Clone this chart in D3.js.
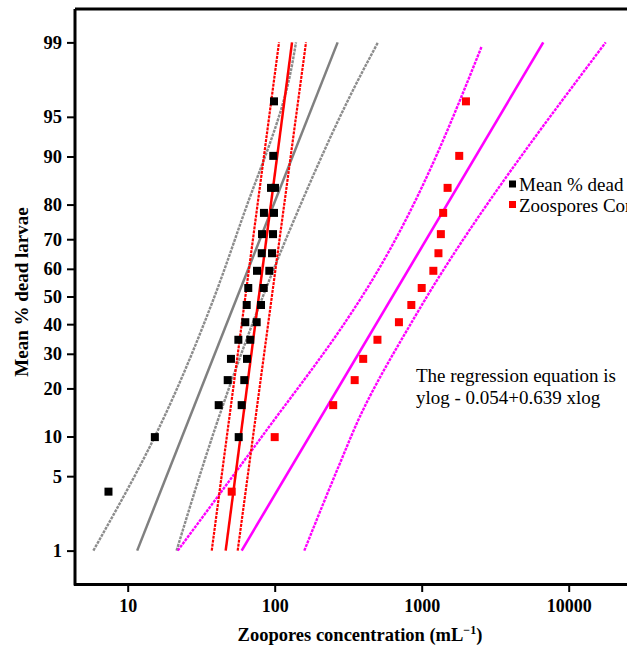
<!DOCTYPE html>
<html>
<head>
<meta charset="utf-8">
<script src="https://cdn.jsdelivr.net/npm/d3@7"></script>
<style>
  html, body { margin: 0; padding: 0; background: #fff; }
  svg { display: block; }
  text { font-family: "Liberation Serif", "Times New Roman", serif; }
</style>
</head>
<body>
<svg id="chart" width="627" height="647"></svg>
<script>
// ---------------- DATA ----------------
const yTickLabels = [1, 5, 10, 20, 30, 40, 50, 60, 70, 80, 90, 95, 99];
const xTickLabels = [10, 100, 1000, 10000];

// Mean % dead larvae (black squares): concentration, percent
const blackConc = [7.4, 15.3, 56.9, 41.6, 59.6, 47.9, 62.1, 50.4, 64.8, 56.6, 68.2, 63.1, 75.4,
                   64.5, 80.7, 66.1, 84.2, 75.8, 91.9, 81.6, 95.9, 82.0, 97.4, 84.5, 98.9, 94.4, 100.5, 97.8, 98.9];
const blackPct  = [3.7, 9.9, 9.9, 16.0, 16.0, 22.2, 22.2, 28.4, 28.4, 34.6, 34.6, 40.7, 40.7,
                   46.9, 46.9, 53.1, 53.1, 59.3, 59.3, 65.4, 65.4, 71.6, 71.6, 77.8, 77.8, 84.0, 84.0, 90.1, 96.3];

// Zoospores concentration (red squares)
const redConc = [51, 100, 250, 350, 400, 500, 700, 850, 1000, 1200, 1300, 1350, 1400, 1500, 1800, 2000];
const redPct  = [3.7, 9.9, 16.0, 22.2, 28.4, 34.6, 40.7, 46.9, 53.1, 59.3, 65.4, 71.6, 77.8, 84.0, 90.1, 96.3];

// Fitted lines and confidence bands: [concentration, percent] points
const grayFit    = [[11.6, 1], [268, 99]];
const grayLower  = [[5.84, 1], [15.3, 10], [38.2, 48.8], [59.6, 75.8], [126.5, 97.8], [139.6, 99]];
const grayUpper  = [[21.5, 1], [44.5, 16], [135.3, 75.8], [380, 97.8], [504, 99]];

const redFit     = [[46.4, 1], [131.2, 99]];
const redLower   = [[37.3, 1], [107, 99]];
const redUpper   = [[56.0, 1], [163.3, 99]];

const magFit     = [[59.6, 1], [6714, 99]];
const magLower   = [[21.9, 1], [81.9, 10], [309, 41.5], [380, 48.8], [2560, 98.9]];
const magUpper   = [[159, 1], [278, 6.35], [380, 13.6], [873, 41.5], [1053, 48.8], [17850, 99]];

const legendLabels = ["Mean % dead larvae", "Zoospores Concentration"];
const equationLines = ["The regression equation is", "ylog - 0.054+0.639 xlog"];

// ---------------- HELPERS ----------------
// inverse standard normal CDF (Acklam)
function probit(pct) {
  const p = pct / 100;
  const a = [-3.969683028665376e+01, 2.209460984245205e+02, -2.759285104469687e+02, 1.383577518672690e+02, -3.066479806614716e+01, 2.506628277459239e+00];
  const b = [-5.447609879822406e+01, 1.615858368580409e+02, -1.556989798598866e+02, 6.680131188771972e+01, -1.328068155288572e+01];
  const c = [-7.784894002430293e-03, -3.223964580411365e-01, -2.400758277161838e+00, -2.549732539343734e+00, 4.374664141464968e+00, 2.938163982698783e+00];
  const d = [7.784695709041462e-03, 3.224671290700398e-01, 2.445134137142996e+00, 3.754408661907416e+00];
  const pl = 0.02425, ph = 1 - pl;
  let q, r;
  if (p < pl) {
    q = Math.sqrt(-2 * Math.log(p));
    return (((((c[0]*q+c[1])*q+c[2])*q+c[3])*q+c[4])*q+c[5]) / ((((d[0]*q+d[1])*q+d[2])*q+d[3])*q+1);
  } else if (p <= ph) {
    q = p - 0.5; r = q * q;
    return (((((a[0]*r+a[1])*r+a[2])*r+a[3])*r+a[4])*r+a[5])*q / (((((b[0]*r+b[1])*r+b[2])*r+b[3])*r+b[4])*r+1);
  } else {
    q = Math.sqrt(-2 * Math.log(1 - p));
    return -(((((c[0]*q+c[1])*q+c[2])*q+c[3])*q+c[4])*q+c[5]) / ((((d[0]*q+d[1])*q+d[2])*q+d[3])*q+1);
  }
}

// ---------------- SCALES ----------------
const svg = d3.select("#chart");
const plotL = 75, plotR = 627, plotT = 9, plotB = 584;

const x = d3.scaleLog().domain([10, 10000]).range([127.7, 568.7]);
const xMin = x.invert(plotL), xMax = x.invert(plotR);
x.domain([xMin, xMax]).range([plotL, plotR]);

const y = d3.scaleLinear().domain([-2.632, 2.632]).range([plotB, plotT]);

// ---------------- LINES ----------------
const line = d3.line().x(d => x(d[0])).y(d => y(probit(d[1]))).curve(d3.curveMonotoneY);

function drawLine(data, color, dash, width) {
  svg.append("path")
    .datum(data)
    .attr("d", line)
    .attr("fill", "none")
    .attr("stroke", color)
    .attr("stroke-width", width)
    .attr("stroke-dasharray", dash);
}

drawLine(grayLower, "#8c8c8c", "3,1", 2.4);
drawLine(grayUpper, "#8c8c8c", "3,1", 2.4);
drawLine(grayFit, "#808080", null, 2.5);
drawLine(magLower, "#ff00ff", "3,1", 2.4);
drawLine(magUpper, "#ff00ff", "3,1", 2.4);
drawLine(magFit, "#ff00ff", null, 2.6);
drawLine(redLower, "#ff0000", "3,1", 2.2);
drawLine(redUpper, "#ff0000", "3,1", 2.2);
drawLine(redFit, "#ff0000", null, 2.5);

// ---------------- POINTS ----------------
const sq = 8;
svg.append("g").selectAll("rect")
  .data(blackConc.map((c, i) => [c, blackPct[i]]))
  .join("rect")
  .attr("x", d => x(d[0]) - sq / 2)
  .attr("y", d => y(probit(d[1])) - sq / 2)
  .attr("width", sq).attr("height", sq)
  .attr("fill", "#000");

svg.append("g").selectAll("rect")
  .data(redConc.map((c, i) => [c, redPct[i]]))
  .join("rect")
  .attr("x", d => x(d[0]) - sq / 2)
  .attr("y", d => y(probit(d[1])) - sq / 2)
  .attr("width", sq).attr("height", sq)
  .attr("fill", "#ff0000");

// ---------------- AXES ----------------
const xAxis = d3.axisBottom(x).tickValues(xTickLabels).tickFormat(d3.format("d")).tickSizeOuter(0).tickSize(8).tickPadding(7);
const gx = svg.append("g").attr("transform", `translate(0,${plotB})`).call(xAxis);
gx.select(".domain").attr("stroke-width", 3).attr("d", `M${plotL - 1},0.5H${plotR}`);
gx.selectAll(".tick line").attr("stroke-width", 2);
gx.selectAll(".tick text").attr("font-size", 18).attr("font-weight", "bold").attr("font-family", "Liberation Serif, serif").attr("fill", "#000");

const yAxis = d3.axisLeft(y).tickValues(yTickLabels.map(probit)).tickFormat((d, i) => yTickLabels[i]).tickSizeOuter(0).tickSize(8).tickPadding(5);
const gy = svg.append("g").attr("transform", `translate(${plotL},0)`).call(yAxis);
gy.select(".domain").attr("stroke-width", 3).attr("d", `M0,${plotT}V${plotB + 1.5}`);
gy.selectAll(".tick line").attr("stroke-width", 2);
gy.selectAll(".tick text").attr("font-size", 18.5).attr("font-weight", "bold").attr("font-family", "Liberation Serif, serif").attr("fill", "#000");

// top frame line
svg.append("line").attr("x1", plotL).attr("x2", plotR).attr("y1", plotT).attr("y2", plotT)
  .attr("stroke", "#000").attr("stroke-width", 3);

// axis titles
const xTitle = svg.append("text").attr("x", 360).attr("y", 641).attr("text-anchor", "middle")
  .attr("font-size", 18.5).attr("font-weight", "bold");
xTitle.append("tspan").text("Zoopores concentration (mL");
xTitle.append("tspan").attr("dy", -7).attr("font-size", 12).text("\u22121");
xTitle.append("tspan").attr("dy", 7).text(")");

svg.append("text").attr("transform", "translate(28,292) rotate(-90)").attr("text-anchor", "middle")
  .attr("font-size", 19).attr("font-weight", "bold").text("Mean % dead larvae");

// legend
const legColors = ["#000", "#ff0000"];
const leg = svg.append("g");
legendLabels.forEach((t, i) => {
  leg.append("rect").attr("x", 509).attr("y", 180.5 + i * 20.5).attr("width", 7).attr("height", 7).attr("fill", legColors[i]);
  leg.append("text").attr("x", 519).attr("y", 191 + i * 20.5).attr("font-size", 19).attr("fill", "#000").text(t);
});

// regression equation
equationLines.forEach((t, i) => {
  svg.append("text").attr("x", 416).attr("y", 382 + i * 21.5).attr("font-size", 19).attr("fill", "#000").text(t);
});
</script>
</body>
</html>
